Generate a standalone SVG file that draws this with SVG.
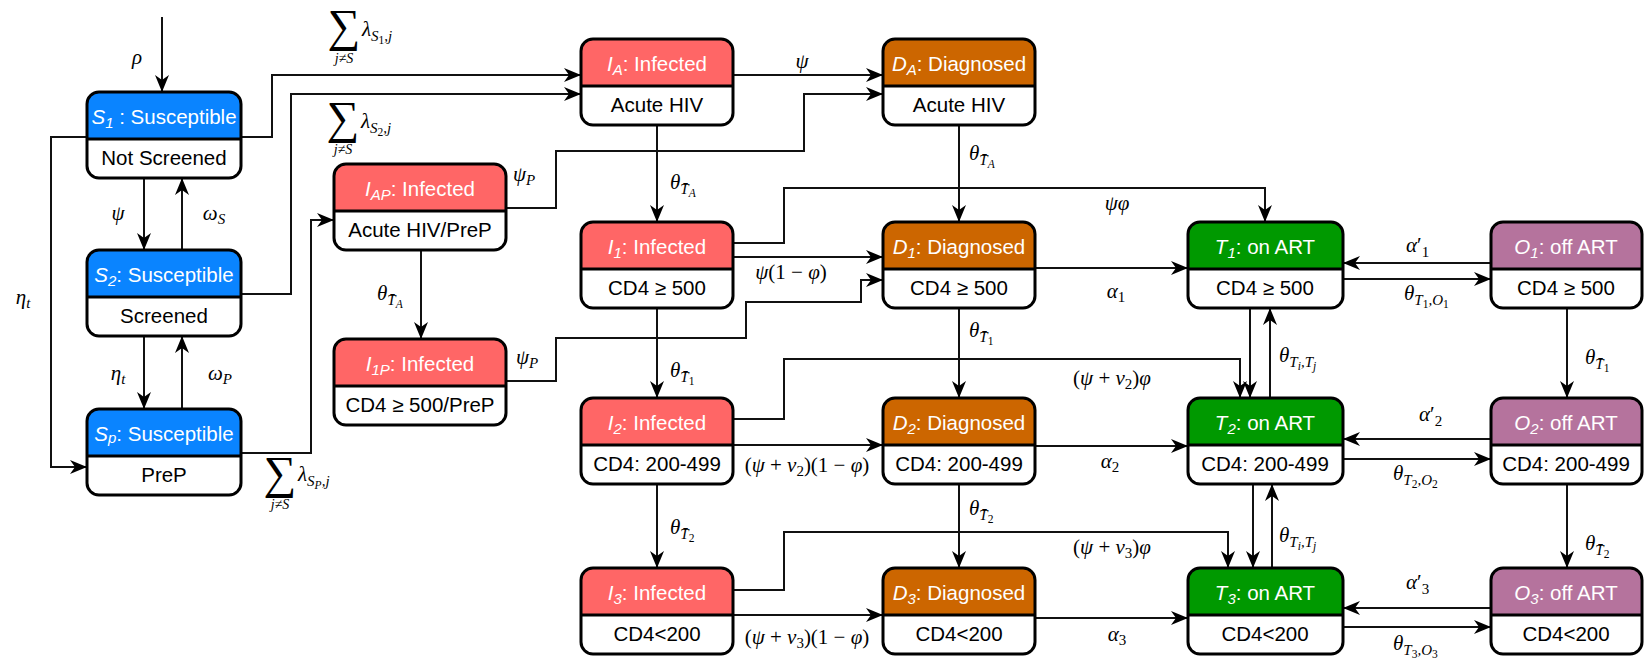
<svg xmlns="http://www.w3.org/2000/svg" width="1644" height="658" viewBox="0 0 1644 658">
<defs>
<style>
.box{fill:none;stroke:#000;stroke-width:3}
.bg{fill:#fff}
.dv{stroke:#000;stroke-width:3}
.blue{fill:#0A84FF}
.red{fill:#FF6666}
.org{fill:#CC6600}
.grn{fill:#009900}
.pur{fill:#B5739D}
.ht{font-family:"Liberation Sans",Arial,sans-serif;font-size:20.5px;fill:#fff;text-anchor:middle}
.lt{font-family:"Liberation Sans",Arial,sans-serif;font-size:20.5px;fill:#000;text-anchor:middle}
.it{font-style:italic}
.sb{font-size:15px}
.ss{font-size:11.5px}
.c{fill:none;stroke:#111;stroke-width:2;marker-end:url(#ah)}
.m{font-family:"Liberation Serif","DejaVu Serif",serif;font-size:21px;font-style:italic;fill:#000}
.mc{text-anchor:middle}
.u{font-style:normal}
.sig{font-family:"Liberation Serif","DejaVu Serif",serif;font-size:46px;text-anchor:middle;fill:#000}
.jn{font-family:"Liberation Serif","DejaVu Serif",serif;font-size:14px;font-style:italic;text-anchor:middle;fill:#000}
</style>
<marker id="ah" markerUnits="userSpaceOnUse" markerWidth="18" markerHeight="15" refX="17" refY="7.5" orient="auto" viewBox="0 0 18 15"><path d="M0,0.5 L17,7.5 L0,14.5 L5,7.5 Z" fill="#000"/></marker>
</defs>
<rect width="1644" height="658" fill="#fff"/>

<g id="connectors">
<path class="c" d="M162,17V92"/>
<path class="c" d="M241,137H272V75H581"/>
<path class="c" d="M241,294H291V94H581"/>
<path class="c" d="M144,178V250"/>
<path class="c" d="M182,250V178"/>
<path class="c" d="M144,336V409"/>
<path class="c" d="M182,409V336"/>
<path class="c" d="M87,137H51V467H87"/>
<path class="c" d="M241,453H311V220H334"/>
<path class="c" d="M421,250V339"/>
<path class="c" d="M506,208H556V151H804V94H883"/>
<path class="c" d="M506,381H556V338H746V302H861V280H883"/>
<path class="c" d="M733,75H883"/>
<path class="c" d="M657,125V222"/>
<path class="c" d="M959,125V222"/>
<path class="c" d="M733,243H784V188H1265V222"/>
<path class="c" d="M733,257H883"/>
<path class="c" d="M1035,268H1188"/>
<path class="c" d="M1343,279H1491"/>
<path class="c" d="M1491,263H1343"/>
<path class="c" d="M657,308V398"/>
<path class="c" d="M959,308V398"/>
<path class="c" d="M1567,308V398"/>
<path class="c" d="M1250,308V398"/>
<path class="c" d="M1270,398V308"/>
<path class="c" d="M733,419H784V359H1240V398"/>
<path class="c" d="M733,445H883"/>
<path class="c" d="M1035,446H1188"/>
<path class="c" d="M1343,459H1491"/>
<path class="c" d="M1491,439H1343"/>
<path class="c" d="M657,484V568"/>
<path class="c" d="M959,484V568"/>
<path class="c" d="M1567,484V568"/>
<path class="c" d="M1253,484V568"/>
<path class="c" d="M1272,568V484"/>
<path class="c" d="M733,590H784V532H1228V568"/>
<path class="c" d="M733,615H883"/>
<path class="c" d="M1035,618H1188"/>
<path class="c" d="M1343,627H1491"/>
<path class="c" d="M1491,608H1343"/>
</g>

<g id="labels">
<text class="m mc" x="137" y="64">ρ</text>
<text class="m mc" x="118" y="220">ψ</text>
<text class="m mc" x="214" y="220">ω<tspan class="sb" dy="4">S</tspan></text>
<text class="m mc" x="23" y="304">η<tspan class="sb" dy="4">t</tspan></text>
<text class="m mc" x="118" y="380">η<tspan class="sb" dy="4">t</tspan></text>
<text class="m mc" x="220" y="380">ω<tspan class="sb" dy="4">P</tspan></text>
<text class="m mc" x="524" y="181">ψ<tspan class="sb" dy="4">P</tspan></text>
<text class="m mc" x="527" y="364">ψ<tspan class="sb" dy="4">P</tspan></text>

<text class="sig" x="344" y="41">∑</text>
<text class="m" x="362" y="36">λ<tspan class="sb" dy="5">S</tspan><tspan class="ss u" dy="3">1</tspan><tspan class="sb" dy="-3">,j</tspan></text>
<text class="jn" x="344" y="63">j≠S</text>
<text class="sig" x="343" y="133">∑</text>
<text class="m" x="361" y="128">λ<tspan class="sb" dy="5">S</tspan><tspan class="ss u" dy="3">2</tspan><tspan class="sb" dy="-3">,j</tspan></text>
<text class="jn" x="343" y="154">j≠S</text>
<text class="sig" x="280" y="488">∑</text>
<text class="m" x="298" y="481">λ<tspan class="sb" dy="5">S</tspan><tspan class="ss" dy="3">P</tspan><tspan class="sb" dy="-3">,j</tspan></text>
<text class="jn" x="280" y="509">j≠S</text>

<text class="m" x="377" y="300">θ<tspan class="sb" dy="5">T&#x304;</tspan><tspan class="ss" dy="3">A</tspan></text>
<text class="m" x="670" y="189">θ<tspan class="sb" dy="5">T&#x304;</tspan><tspan class="ss" dy="3">A</tspan></text>
<text class="m" x="969" y="160">θ<tspan class="sb" dy="5">T&#x304;</tspan><tspan class="ss" dy="3">A</tspan></text>
<text class="m mc" x="802" y="68">ψ</text>
<text class="m mc" x="1117" y="210">ψφ</text>
<text class="m mc" x="791" y="279"><tspan>ψ</tspan><tspan class="u">(1 − </tspan><tspan>φ</tspan><tspan class="u">)</tspan></text>
<text class="m mc" x="1116" y="298">α<tspan class="sb u" dy="4">1</tspan></text>
<text class="m" x="1406" y="252">α<tspan class="u">′</tspan><tspan class="sb u" dy="5">1</tspan></text>
<text class="m" x="1404" y="300">θ<tspan class="sb" dy="5">T</tspan><tspan class="ss u" dy="3">1</tspan><tspan class="sb" dy="-3">,O</tspan><tspan class="ss u" dy="3">1</tspan></text>
<text class="m" x="1279" y="362">θ<tspan class="sb" dy="5">T</tspan><tspan class="ss" dy="3">i</tspan><tspan class="sb" dy="-3">,T</tspan><tspan class="ss" dy="3">j</tspan></text>
<text class="m" x="1585" y="364">θ<tspan class="sb" dy="5">T&#x304;</tspan><tspan class="ss u" dy="3">1</tspan></text>
<text class="m" x="670" y="377">θ<tspan class="sb" dy="5">T&#x304;</tspan><tspan class="ss u" dy="3">1</tspan></text>
<text class="m" x="969" y="337">θ<tspan class="sb" dy="5">T&#x304;</tspan><tspan class="ss u" dy="3">1</tspan></text>
<text class="m mc" x="1112" y="385"><tspan class="u">(</tspan>ψ<tspan class="u"> + </tspan>ν<tspan class="sb u" dy="4">2</tspan><tspan class="u" dy="-4">)</tspan>φ</text>
<text class="m mc" x="807" y="472"><tspan class="u">(</tspan>ψ<tspan class="u"> + </tspan>ν<tspan class="sb u" dy="4">2</tspan><tspan class="u" dy="-4">)(1 − </tspan>φ<tspan class="u">)</tspan></text>
<text class="m mc" x="1110" y="468">α<tspan class="sb u" dy="4">2</tspan></text>
<text class="m" x="1419" y="421">α<tspan class="u">′</tspan><tspan class="sb u" dy="5">2</tspan></text>
<text class="m" x="1393" y="480">θ<tspan class="sb" dy="5">T</tspan><tspan class="ss u" dy="3">2</tspan><tspan class="sb" dy="-3">,O</tspan><tspan class="ss u" dy="3">2</tspan></text>
<text class="m" x="670" y="534">θ<tspan class="sb" dy="5">T&#x304;</tspan><tspan class="ss u" dy="3">2</tspan></text>
<text class="m" x="969" y="515">θ<tspan class="sb" dy="5">T&#x304;</tspan><tspan class="ss u" dy="3">2</tspan></text>
<text class="m" x="1279" y="542">θ<tspan class="sb" dy="5">T</tspan><tspan class="ss" dy="3">i</tspan><tspan class="sb" dy="-3">,T</tspan><tspan class="ss" dy="3">j</tspan></text>
<text class="m" x="1585" y="550">θ<tspan class="sb" dy="5">T&#x304;</tspan><tspan class="ss u" dy="3">2</tspan></text>
<text class="m mc" x="1112" y="554"><tspan class="u">(</tspan>ψ<tspan class="u"> + </tspan>ν<tspan class="sb u" dy="4">3</tspan><tspan class="u" dy="-4">)</tspan>φ</text>
<text class="m mc" x="807" y="644"><tspan class="u">(</tspan>ψ<tspan class="u"> + </tspan>ν<tspan class="sb u" dy="4">3</tspan><tspan class="u" dy="-4">)(1 − </tspan>φ<tspan class="u">)</tspan></text>
<text class="m mc" x="1117" y="641">α<tspan class="sb u" dy="4">3</tspan></text>
<text class="m" x="1406" y="589">α<tspan class="u">′</tspan><tspan class="sb u" dy="5">3</tspan></text>
<text class="m" x="1393" y="650">θ<tspan class="sb" dy="5">T</tspan><tspan class="ss u" dy="3">3</tspan><tspan class="sb" dy="-3">,O</tspan><tspan class="ss u" dy="3">3</tspan></text>
</g>

<g id="S1"><rect class="bg" x="87" y="92" width="154" height="86" rx="12"/><path class="blue" d="M87,139V104A12,12 0 0 1 99,92H229A12,12 0 0 1 241,104V139Z"/><rect class="box" x="87" y="92" width="154" height="86" rx="12"/><line class="dv" x1="87" y1="139" x2="241" y2="139"/><text class="ht" x="164" y="124"><tspan class="it">S</tspan><tspan class="it sb" dy="4">1</tspan><tspan dy="-4"> : Susceptible</tspan></text><text class="lt" x="164" y="165">Not Screened</text></g>
<g id="S2"><rect class="bg" x="87" y="250" width="154" height="86" rx="12"/><path class="blue" d="M87,297V262A12,12 0 0 1 99,250H229A12,12 0 0 1 241,262V297Z"/><rect class="box" x="87" y="250" width="154" height="86" rx="12"/><line class="dv" x1="87" y1="297" x2="241" y2="297"/><text class="ht" x="164" y="282"><tspan class="it">S</tspan><tspan class="it sb" dy="4">2</tspan><tspan dy="-4">: Susceptible</tspan></text><text class="lt" x="164" y="323">Screened</text></g>
<g id="SP"><rect class="bg" x="87" y="409" width="154" height="86" rx="12"/><path class="blue" d="M87,456V421A12,12 0 0 1 99,409H229A12,12 0 0 1 241,421V456Z"/><rect class="box" x="87" y="409" width="154" height="86" rx="12"/><line class="dv" x1="87" y1="456" x2="241" y2="456"/><text class="ht" x="164" y="441"><tspan class="it">S</tspan><tspan class="it sb" dy="2">p</tspan><tspan dy="-2">: Susceptible</tspan></text><text class="lt" x="164" y="482">PreP</text></g>

<g id="IAP"><rect class="bg" x="334" y="164" width="172" height="86" rx="12"/><path class="red" d="M334,211V176A12,12 0 0 1 346,164H494A12,12 0 0 1 506,176V211Z"/><rect class="box" x="334" y="164" width="172" height="86" rx="12"/><line class="dv" x1="334" y1="211" x2="506" y2="211"/><text class="ht" x="420" y="196"><tspan class="it">I</tspan><tspan class="it sb" dy="4">AP</tspan><tspan dy="-4">: Infected</tspan></text><text class="lt" x="420" y="237">Acute HIV/PreP</text></g>
<g id="I1P"><rect class="bg" x="334" y="339" width="172" height="86" rx="12"/><path class="red" d="M334,386V351A12,12 0 0 1 346,339H494A12,12 0 0 1 506,351V386Z"/><rect class="box" x="334" y="339" width="172" height="86" rx="12"/><line class="dv" x1="334" y1="386" x2="506" y2="386"/><text class="ht" x="420" y="371"><tspan class="it">I</tspan><tspan class="it sb" dy="4">1P</tspan><tspan dy="-4">: Infected</tspan></text><text class="lt" x="420" y="412">CD4 ≥ 500/PreP</text></g>

<g id="IA"><rect class="bg" x="581" y="39" width="152" height="86" rx="12"/><path class="red" d="M581,86V51A12,12 0 0 1 593,39H721A12,12 0 0 1 733,51V86Z"/><rect class="box" x="581" y="39" width="152" height="86" rx="12"/><line class="dv" x1="581" y1="86" x2="733" y2="86"/><text class="ht" x="657" y="71"><tspan class="it">I</tspan><tspan class="it sb" dy="4">A</tspan><tspan dy="-4">: Infected</tspan></text><text class="lt" x="657" y="112">Acute HIV</text></g>
<g id="I1"><rect class="bg" x="581" y="222" width="152" height="86" rx="12"/><path class="red" d="M581,269V234A12,12 0 0 1 593,222H721A12,12 0 0 1 733,234V269Z"/><rect class="box" x="581" y="222" width="152" height="86" rx="12"/><line class="dv" x1="581" y1="269" x2="733" y2="269"/><text class="ht" x="657" y="254"><tspan class="it">I</tspan><tspan class="it sb" dy="4">1</tspan><tspan dy="-4">: Infected</tspan></text><text class="lt" x="657" y="295">CD4 ≥ 500</text></g>
<g id="I2"><rect class="bg" x="581" y="398" width="152" height="86" rx="12"/><path class="red" d="M581,445V410A12,12 0 0 1 593,398H721A12,12 0 0 1 733,410V445Z"/><rect class="box" x="581" y="398" width="152" height="86" rx="12"/><line class="dv" x1="581" y1="445" x2="733" y2="445"/><text class="ht" x="657" y="430"><tspan class="it">I</tspan><tspan class="it sb" dy="4">2</tspan><tspan dy="-4">: Infected</tspan></text><text class="lt" x="657" y="471">CD4: 200-499</text></g>
<g id="I3"><rect class="bg" x="581" y="568" width="152" height="86" rx="12"/><path class="red" d="M581,615V580A12,12 0 0 1 593,568H721A12,12 0 0 1 733,580V615Z"/><rect class="box" x="581" y="568" width="152" height="86" rx="12"/><line class="dv" x1="581" y1="615" x2="733" y2="615"/><text class="ht" x="657" y="600"><tspan class="it">I</tspan><tspan class="it sb" dy="4">3</tspan><tspan dy="-4">: Infected</tspan></text><text class="lt" x="657" y="641">CD4&lt;200</text></g>

<g id="DA"><rect class="bg" x="883" y="39" width="152" height="86" rx="12"/><path class="org" d="M883,86V51A12,12 0 0 1 895,39H1023A12,12 0 0 1 1035,51V86Z"/><rect class="box" x="883" y="39" width="152" height="86" rx="12"/><line class="dv" x1="883" y1="86" x2="1035" y2="86"/><text class="ht" x="959" y="71"><tspan class="it">D</tspan><tspan class="it sb" dy="4">A</tspan><tspan dy="-4">: Diagnosed</tspan></text><text class="lt" x="959" y="112">Acute HIV</text></g>
<g id="D1"><rect class="bg" x="883" y="222" width="152" height="86" rx="12"/><path class="org" d="M883,269V234A12,12 0 0 1 895,222H1023A12,12 0 0 1 1035,234V269Z"/><rect class="box" x="883" y="222" width="152" height="86" rx="12"/><line class="dv" x1="883" y1="269" x2="1035" y2="269"/><text class="ht" x="959" y="254"><tspan class="it">D</tspan><tspan class="it sb" dy="4">1</tspan><tspan dy="-4">: Diagnosed</tspan></text><text class="lt" x="959" y="295">CD4 ≥ 500</text></g>
<g id="D2"><rect class="bg" x="883" y="398" width="152" height="86" rx="12"/><path class="org" d="M883,445V410A12,12 0 0 1 895,398H1023A12,12 0 0 1 1035,410V445Z"/><rect class="box" x="883" y="398" width="152" height="86" rx="12"/><line class="dv" x1="883" y1="445" x2="1035" y2="445"/><text class="ht" x="959" y="430"><tspan class="it">D</tspan><tspan class="it sb" dy="4">2</tspan><tspan dy="-4">: Diagnosed</tspan></text><text class="lt" x="959" y="471">CD4: 200-499</text></g>
<g id="D3"><rect class="bg" x="883" y="568" width="152" height="86" rx="12"/><path class="org" d="M883,615V580A12,12 0 0 1 895,568H1023A12,12 0 0 1 1035,580V615Z"/><rect class="box" x="883" y="568" width="152" height="86" rx="12"/><line class="dv" x1="883" y1="615" x2="1035" y2="615"/><text class="ht" x="959" y="600"><tspan class="it">D</tspan><tspan class="it sb" dy="4">3</tspan><tspan dy="-4">: Diagnosed</tspan></text><text class="lt" x="959" y="641">CD4&lt;200</text></g>

<g id="T1"><rect class="bg" x="1188" y="222" width="155" height="86" rx="12"/><path class="grn" d="M1188,269V234A12,12 0 0 1 1200,222H1331A12,12 0 0 1 1343,234V269Z"/><rect class="box" x="1188" y="222" width="155" height="86" rx="12"/><line class="dv" x1="1188" y1="269" x2="1343" y2="269"/><text class="ht" x="1265" y="254"><tspan class="it">T</tspan><tspan class="it sb" dy="4">1</tspan><tspan dy="-4">: on ART</tspan></text><text class="lt" x="1265" y="295">CD4 ≥ 500</text></g>
<g id="T2"><rect class="bg" x="1188" y="398" width="155" height="86" rx="12"/><path class="grn" d="M1188,445V410A12,12 0 0 1 1200,398H1331A12,12 0 0 1 1343,410V445Z"/><rect class="box" x="1188" y="398" width="155" height="86" rx="12"/><line class="dv" x1="1188" y1="445" x2="1343" y2="445"/><text class="ht" x="1265" y="430"><tspan class="it">T</tspan><tspan class="it sb" dy="4">2</tspan><tspan dy="-4">: on ART</tspan></text><text class="lt" x="1265" y="471">CD4: 200-499</text></g>
<g id="T3"><rect class="bg" x="1188" y="568" width="155" height="86" rx="12"/><path class="grn" d="M1188,615V580A12,12 0 0 1 1200,568H1331A12,12 0 0 1 1343,580V615Z"/><rect class="box" x="1188" y="568" width="155" height="86" rx="12"/><line class="dv" x1="1188" y1="615" x2="1343" y2="615"/><text class="ht" x="1265" y="600"><tspan class="it">T</tspan><tspan class="it sb" dy="4">3</tspan><tspan dy="-4">: on ART</tspan></text><text class="lt" x="1265" y="641">CD4&lt;200</text></g>

<g id="O1"><rect class="bg" x="1491" y="222" width="151" height="86" rx="12"/><path class="pur" d="M1491,269V234A12,12 0 0 1 1503,222H1630A12,12 0 0 1 1642,234V269Z"/><rect class="box" x="1491" y="222" width="151" height="86" rx="12"/><line class="dv" x1="1491" y1="269" x2="1642" y2="269"/><text class="ht" x="1566" y="254"><tspan class="it">O</tspan><tspan class="it sb" dy="4">1</tspan><tspan dy="-4">: off ART</tspan></text><text class="lt" x="1566" y="295">CD4 ≥ 500</text></g>
<g id="O2"><rect class="bg" x="1491" y="398" width="151" height="86" rx="12"/><path class="pur" d="M1491,445V410A12,12 0 0 1 1503,398H1630A12,12 0 0 1 1642,410V445Z"/><rect class="box" x="1491" y="398" width="151" height="86" rx="12"/><line class="dv" x1="1491" y1="445" x2="1642" y2="445"/><text class="ht" x="1566" y="430"><tspan class="it">O</tspan><tspan class="it sb" dy="4">2</tspan><tspan dy="-4">: off ART</tspan></text><text class="lt" x="1566" y="471">CD4: 200-499</text></g>
<g id="O3"><rect class="bg" x="1491" y="568" width="151" height="86" rx="12"/><path class="pur" d="M1491,615V580A12,12 0 0 1 1503,568H1630A12,12 0 0 1 1642,580V615Z"/><rect class="box" x="1491" y="568" width="151" height="86" rx="12"/><line class="dv" x1="1491" y1="615" x2="1642" y2="615"/><text class="ht" x="1566" y="600"><tspan class="it">O</tspan><tspan class="it sb" dy="4">3</tspan><tspan dy="-4">: off ART</tspan></text><text class="lt" x="1566" y="641">CD4&lt;200</text></g>
</svg>
